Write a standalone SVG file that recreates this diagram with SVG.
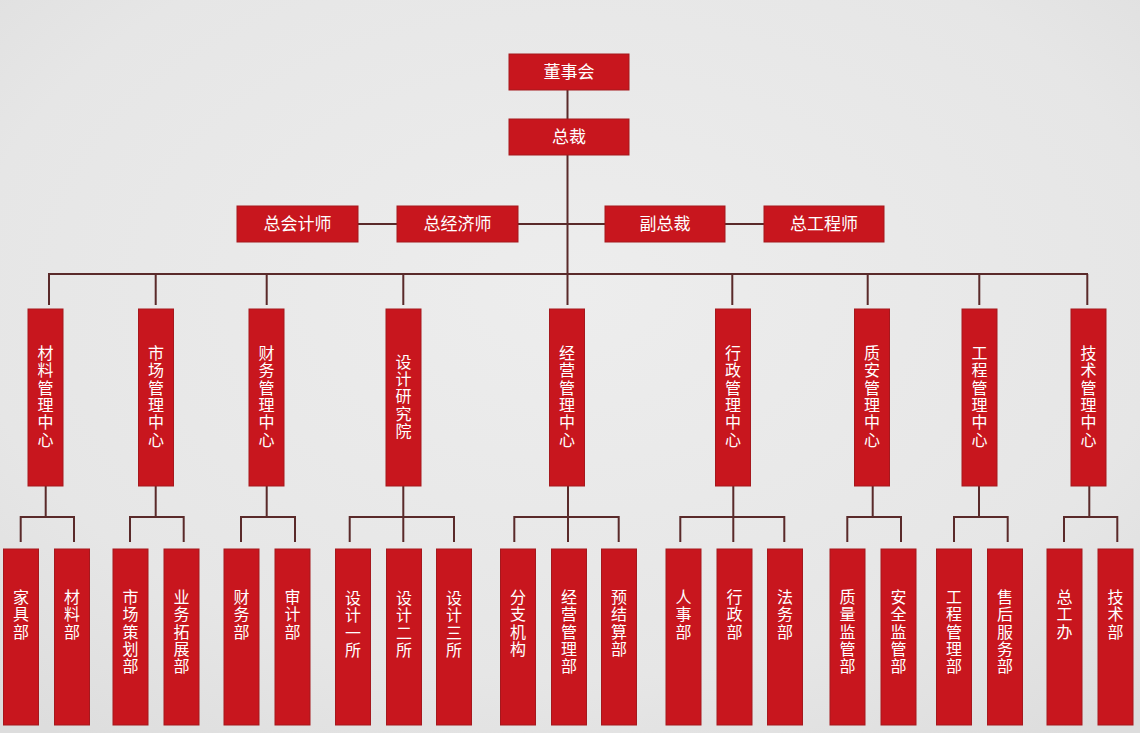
<svg xmlns="http://www.w3.org/2000/svg" width="1140" height="733" viewBox="0 0 1140 733">
<defs>
<radialGradient id="bg" cx="0.5" cy="0.4" r="0.75">
<stop offset="0" stop-color="#ededed"/>
<stop offset="0.7" stop-color="#e6e6e6"/>
<stop offset="1" stop-color="#dddddd"/>
</radialGradient>
</defs>
<style>
.box{fill:#c8161e;stroke:#a5181d;stroke-width:1}
.t{font-family:"Noto Sans CJK SC","Noto Sans",sans-serif;font-size:17px;fill:#ffffff;text-anchor:middle}
.v{font-family:"Noto Sans CJK SC","Noto Sans",sans-serif;font-size:16px;fill:#ffffff;text-anchor:middle}
.c{fill:none;stroke:#5a2a2a;stroke-width:2}
</style>
<rect x="0" y="0" width="1140" height="733" fill="url(#bg)"/>

<g id="connectors" class="c">
<path d="M567.5 90V119"/>
<path d="M567.5 155V305"/>
<path d="M358 224H397M518 224H605M725 224H764"/>
<path d="M48 274H1088"/>
<path d="M49 274V305M155.7 274V305M266.7 274V305M403.3 274V305M732.3 274V305M867.7 274V305M979.3 274V305M1087.3 274V305"/>
<path d="M45.7 486V517M20.7 542V517H74V542"/>
<path d="M155.7 486V517M130 542V517H183.7V542"/>
<path d="M266.7 486V517M241 542V517H295V542"/>
<path d="M403.3 486V542M349.7 542V517H454V542"/>
<path d="M568 486V542M514.3 542V517H618.7V542"/>
<path d="M733.3 486V542M680.3 542V517H784.3V542"/>
<path d="M872.7 486V517M847.3 542V517H901V542"/>
<path d="M979 486V517M954 542V517H1007.7V542"/>
<path d="M1089.3 486V517M1064 542V517H1117.3V542"/>
</g>

<g id="n-dongshihui"><rect class="box" x="509" y="54" width="120" height="36"/><text class="t" x="569" y="78">董事会</text></g>
<g id="n-zongcai"><rect class="box" x="509" y="119" width="120" height="36"/><text class="t" x="569" y="143">总裁</text></g>
<g id="n-zongkuaijishi"><rect class="box" x="237" y="206" width="121" height="36"/><text class="t" x="297.5" y="230">总会计师</text></g>
<g id="n-zongjingjishi"><rect class="box" x="397" y="206" width="121" height="36"/><text class="t" x="457.5" y="230">总经济师</text></g>
<g id="n-fuzongcai"><rect class="box" x="605" y="206" width="120" height="36"/><text class="t" x="665" y="230">副总裁</text></g>
<g id="n-zonggongchengshi"><rect class="box" x="764" y="206" width="120" height="36"/><text class="t" x="824" y="230">总工程师</text></g>

<g id="n-cailiao-center"><rect class="box" x="28" y="309" width="35" height="177"/><text class="v"><tspan x="45.5" y="359">材</tspan><tspan x="45.5" y="376.3">料</tspan><tspan x="45.5" y="393.6">管</tspan><tspan x="45.5" y="410.9">理</tspan><tspan x="45.5" y="428.2">中</tspan><tspan x="45.5" y="445.5">心</tspan></text></g>
<g id="n-shichang-center"><rect class="box" x="138.5" y="309" width="35" height="177"/><text class="v"><tspan x="156" y="359">市</tspan><tspan x="156" y="376.3">场</tspan><tspan x="156" y="393.6">管</tspan><tspan x="156" y="410.9">理</tspan><tspan x="156" y="428.2">中</tspan><tspan x="156" y="445.5">心</tspan></text></g>
<g id="n-caiwu-center"><rect class="box" x="249" y="309" width="35" height="177"/><text class="v"><tspan x="266.5" y="359">财</tspan><tspan x="266.5" y="376.3">务</tspan><tspan x="266.5" y="393.6">管</tspan><tspan x="266.5" y="410.9">理</tspan><tspan x="266.5" y="428.2">中</tspan><tspan x="266.5" y="445.5">心</tspan></text></g>
<g id="n-sheji-yuan"><rect class="box" x="386" y="309" width="35" height="177"/><text class="v"><tspan x="403.5" y="367.6">设</tspan><tspan x="403.5" y="384.9">计</tspan><tspan x="403.5" y="402.2">研</tspan><tspan x="403.5" y="419.5">究</tspan><tspan x="403.5" y="436.8">院</tspan></text></g>
<g id="n-jingying-center"><rect class="box" x="549.5" y="309" width="35" height="177"/><text class="v"><tspan x="567" y="359">经</tspan><tspan x="567" y="376.3">营</tspan><tspan x="567" y="393.6">管</tspan><tspan x="567" y="410.9">理</tspan><tspan x="567" y="428.2">中</tspan><tspan x="567" y="445.5">心</tspan></text></g>
<g id="n-xingzheng-center"><rect class="box" x="715.5" y="309" width="35" height="177"/><text class="v"><tspan x="733" y="359">行</tspan><tspan x="733" y="376.3">政</tspan><tspan x="733" y="393.6">管</tspan><tspan x="733" y="410.9">理</tspan><tspan x="733" y="428.2">中</tspan><tspan x="733" y="445.5">心</tspan></text></g>
<g id="n-zhian-center"><rect class="box" x="854.5" y="309" width="35" height="177"/><text class="v"><tspan x="872" y="359">质</tspan><tspan x="872" y="376.3">安</tspan><tspan x="872" y="393.6">管</tspan><tspan x="872" y="410.9">理</tspan><tspan x="872" y="428.2">中</tspan><tspan x="872" y="445.5">心</tspan></text></g>
<g id="n-gongcheng-center"><rect class="box" x="962" y="309" width="35" height="177"/><text class="v"><tspan x="979.5" y="359">工</tspan><tspan x="979.5" y="376.3">程</tspan><tspan x="979.5" y="393.6">管</tspan><tspan x="979.5" y="410.9">理</tspan><tspan x="979.5" y="428.2">中</tspan><tspan x="979.5" y="445.5">心</tspan></text></g>
<g id="n-jishu-center"><rect class="box" x="1071" y="309" width="35" height="177"/><text class="v"><tspan x="1088.5" y="359">技</tspan><tspan x="1088.5" y="376.3">术</tspan><tspan x="1088.5" y="393.6">管</tspan><tspan x="1088.5" y="410.9">理</tspan><tspan x="1088.5" y="428.2">中</tspan><tspan x="1088.5" y="445.5">心</tspan></text></g>

<g id="n-jiaju"><rect class="box" x="3.5" y="549" width="35" height="176"/><text class="v"><tspan x="21" y="603">家</tspan><tspan x="21" y="620.3">具</tspan><tspan x="21" y="637.6">部</tspan></text></g>
<g id="n-cailiaobu"><rect class="box" x="54.5" y="549" width="35" height="176"/><text class="v"><tspan x="72" y="603">材</tspan><tspan x="72" y="620.3">料</tspan><tspan x="72" y="637.6">部</tspan></text></g>
<g id="n-shichangcehua"><rect class="box" x="113" y="549" width="35" height="176"/><text class="v"><tspan x="130.5" y="603">市</tspan><tspan x="130.5" y="620.3">场</tspan><tspan x="130.5" y="637.6">策</tspan><tspan x="130.5" y="654.9">划</tspan><tspan x="130.5" y="672.2">部</tspan></text></g>
<g id="n-yewutuozhan"><rect class="box" x="164" y="549" width="35" height="176"/><text class="v"><tspan x="181.5" y="603">业</tspan><tspan x="181.5" y="620.3">务</tspan><tspan x="181.5" y="637.6">拓</tspan><tspan x="181.5" y="654.9">展</tspan><tspan x="181.5" y="672.2">部</tspan></text></g>
<g id="n-caiwubu"><rect class="box" x="224" y="549" width="35" height="176"/><text class="v"><tspan x="241.5" y="603">财</tspan><tspan x="241.5" y="620.3">务</tspan><tspan x="241.5" y="637.6">部</tspan></text></g>
<g id="n-shenjibu"><rect class="box" x="275" y="549" width="35" height="176"/><text class="v"><tspan x="292.5" y="603">审</tspan><tspan x="292.5" y="620.3">计</tspan><tspan x="292.5" y="637.6">部</tspan></text></g>
<g id="n-sheji1"><rect class="box" x="335.5" y="549" width="35" height="176"/><text class="v"><tspan x="353" y="604">设</tspan><tspan x="353" y="621.3">计</tspan><tspan x="353" y="638.6">一</tspan><tspan x="353" y="655.9">所</tspan></text></g>
<g id="n-sheji2"><rect class="box" x="386.5" y="549" width="35" height="176"/><text class="v"><tspan x="404" y="604">设</tspan><tspan x="404" y="621.3">计</tspan><tspan x="404" y="638.6">二</tspan><tspan x="404" y="655.9">所</tspan></text></g>
<g id="n-sheji3"><rect class="box" x="436.5" y="549" width="35" height="176"/><text class="v"><tspan x="454" y="604">设</tspan><tspan x="454" y="621.3">计</tspan><tspan x="454" y="638.6">三</tspan><tspan x="454" y="655.9">所</tspan></text></g>
<g id="n-fenzhijigou"><rect class="box" x="500.5" y="549" width="35" height="176"/><text class="v"><tspan x="518" y="603">分</tspan><tspan x="518" y="620.3">支</tspan><tspan x="518" y="637.6">机</tspan><tspan x="518" y="654.9">构</tspan></text></g>
<g id="n-jingyingguanlibu"><rect class="box" x="551.5" y="549" width="35" height="176"/><text class="v"><tspan x="569" y="603">经</tspan><tspan x="569" y="620.3">营</tspan><tspan x="569" y="637.6">管</tspan><tspan x="569" y="654.9">理</tspan><tspan x="569" y="672.2">部</tspan></text></g>
<g id="n-yujiesuan"><rect class="box" x="601.5" y="549" width="35" height="176"/><text class="v"><tspan x="619" y="603">预</tspan><tspan x="619" y="620.3">结</tspan><tspan x="619" y="637.6">算</tspan><tspan x="619" y="654.9">部</tspan></text></g>
<g id="n-renshi"><rect class="box" x="666" y="549" width="35" height="176"/><text class="v"><tspan x="683.5" y="603">人</tspan><tspan x="683.5" y="620.3">事</tspan><tspan x="683.5" y="637.6">部</tspan></text></g>
<g id="n-xingzhengbu"><rect class="box" x="717" y="549" width="35" height="176"/><text class="v"><tspan x="734.5" y="603">行</tspan><tspan x="734.5" y="620.3">政</tspan><tspan x="734.5" y="637.6">部</tspan></text></g>
<g id="n-fawu"><rect class="box" x="767.5" y="549" width="35" height="176"/><text class="v"><tspan x="785" y="603">法</tspan><tspan x="785" y="620.3">务</tspan><tspan x="785" y="637.6">部</tspan></text></g>
<g id="n-zhiliangjianguan"><rect class="box" x="830" y="549" width="35" height="176"/><text class="v"><tspan x="847.5" y="603">质</tspan><tspan x="847.5" y="620.3">量</tspan><tspan x="847.5" y="637.6">监</tspan><tspan x="847.5" y="654.9">管</tspan><tspan x="847.5" y="672.2">部</tspan></text></g>
<g id="n-anquanjianguan"><rect class="box" x="881" y="549" width="35" height="176"/><text class="v"><tspan x="898.5" y="603">安</tspan><tspan x="898.5" y="620.3">全</tspan><tspan x="898.5" y="637.6">监</tspan><tspan x="898.5" y="654.9">管</tspan><tspan x="898.5" y="672.2">部</tspan></text></g>
<g id="n-gongchengguanlibu"><rect class="box" x="936.5" y="549" width="35" height="176"/><text class="v"><tspan x="954" y="603">工</tspan><tspan x="954" y="620.3">程</tspan><tspan x="954" y="637.6">管</tspan><tspan x="954" y="654.9">理</tspan><tspan x="954" y="672.2">部</tspan></text></g>
<g id="n-shouhoufuwu"><rect class="box" x="987.5" y="549" width="35" height="176"/><text class="v"><tspan x="1005" y="603">售</tspan><tspan x="1005" y="620.3">后</tspan><tspan x="1005" y="637.6">服</tspan><tspan x="1005" y="654.9">务</tspan><tspan x="1005" y="672.2">部</tspan></text></g>
<g id="n-zonggongban"><rect class="box" x="1047" y="549" width="35" height="176"/><text class="v"><tspan x="1064.5" y="603">总</tspan><tspan x="1064.5" y="620.3">工</tspan><tspan x="1064.5" y="637.6">办</tspan></text></g>
<g id="n-jishubu"><rect class="box" x="1098" y="549" width="35" height="176"/><text class="v"><tspan x="1115.5" y="603">技</tspan><tspan x="1115.5" y="620.3">术</tspan><tspan x="1115.5" y="637.6">部</tspan></text></g>
</svg>
